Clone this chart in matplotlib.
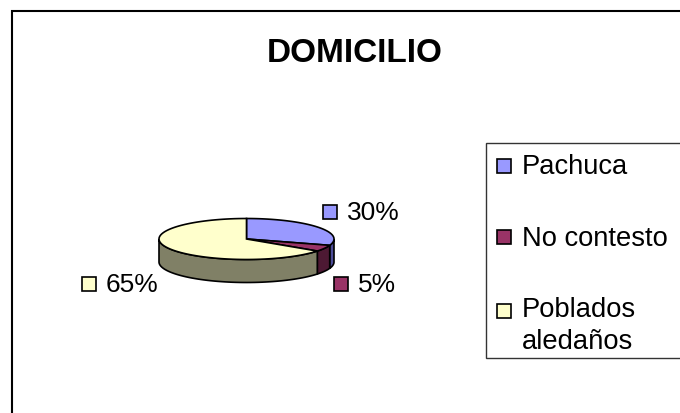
import numpy as np
import matplotlib
matplotlib.use("Agg")
import matplotlib.pyplot as plt
from matplotlib.patches import Polygon, Rectangle

plt.rcParams['font.family'] = ['Liberation Sans', 'DejaVu Sans']

title = "DOMICILIO"
categories = ["Pachuca", "No contesto", "Poblados\naledaños"]
values = [30, 5, 65]
labels = ["30%", "5%", "65%"]
colors = ["#9999FF", "#993366", "#FFFFCC"]
side_colors = ["#4D4D99", "#4D1933", "#808066"]

W, H = 680, 414
fig = plt.figure(figsize=(W / 100, H / 100), dpi=100)
ax = fig.add_axes([0, 0, 1, 1])
ax.set_xlim(0, W)
ax.set_ylim(H, 0)
ax.axis("off")

ax.add_patch(Rectangle((11.5, 11.5), 700, 420, fc="white", ec="black", lw=1.5))
ax.text(354.5, 53, title, ha="center", va="center", fontsize=24, fontweight="bold", color="black")

cx, cy, rx, ry, depth = 246.5, 240, 87.5, 20.5, 23
edges = 90 - 3.6 * np.concatenate([[0], np.cumsum(values)])


def xy(a):
    r = np.deg2rad(a)
    return cx + rx * np.cos(r), cy - ry * np.sin(r)


# outer wall: only the front half of each slice is visible
for a0, a1, sc in zip(edges[:-1], edges[1:], side_colors):
    lo, hi = max(a1, -180), min(a0, 0)
    if hi > lo:
        x, y = xy(np.linspace(hi, lo, 60))
        pts = np.r_[np.c_[x, y], np.c_[x[::-1], y[::-1] + depth]]
        ax.add_patch(Polygon(pts, fc=sc, ec="black", lw=1.2, zorder=2))

# top face
for a0, a1, c in zip(edges[:-1], edges[1:], colors):
    x, y = xy(np.linspace(a0, a1, 90))
    pts = np.r_[[[cx, cy]], np.c_[x, y]]
    ax.add_patch(Polygon(pts, fc=c, ec="black", lw=1.2, zorder=3))

# data labels
label_pos = [(330, 213), (340.5, 285), (88.5, 285)]
for (lx, ly), t, c in zip(label_pos, labels, colors):
    ax.add_patch(Rectangle((lx - 7, ly - 7), 14, 14, fc=c, ec="black", lw=1.2, zorder=4))
    ax.text(lx + 17, ly, t, ha="left", va="center", fontsize=19, color="black", zorder=4)

# legend
ax.add_patch(Rectangle((485.5, 144), 220, 215, fc="white", ec="#333333", lw=1, zorder=1))
leg_y = [167, 238, 312]
leg_text_y = [167, 239, 326]
for ly, ty, t, c in zip(leg_y, leg_text_y, categories, colors):
    ax.add_patch(Rectangle((497, ly - 7), 14, 14, fc=c, ec="black", lw=1.2, zorder=4))
    ax.text(521.5, ty, t, ha="left", va="center", fontsize=19.7, color="black",
            linespacing=1.29, zorder=4)

fig.savefig("out.png", dpi=100)
